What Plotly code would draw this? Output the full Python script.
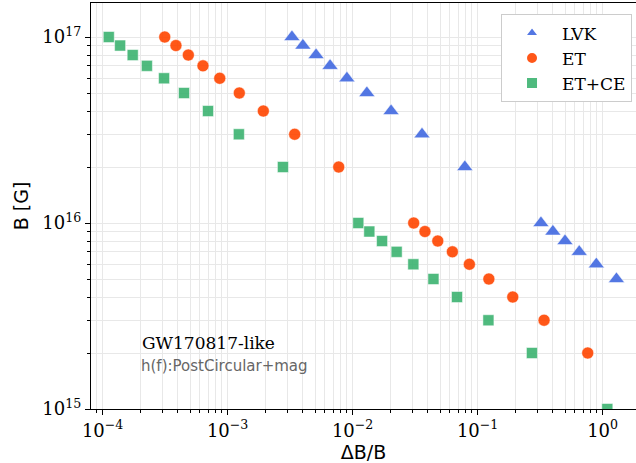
import plotly.graph_objects as go

# LVK
lvk_x = [3.27e-3, 4.0e-3, 5.1e-3, 6.6e-3, 9.0e-3, 1.30e-2, 2.03e-2, 3.59e-2, 7.9e-2,
         0.321, 0.40, 0.50, 0.65, 0.89, 1.29]
lvk_y = [1e17, 9e16, 8e16, 7e16, 6e16, 5e16, 4e16, 3e16, 2e16,
         1e16, 9e15, 8e15, 7e15, 6e15, 5e15]
# ET
et_x = [3.14e-4, 3.86e-4, 4.85e-4, 6.35e-4, 8.65e-4, 1.24e-3, 1.93e-3, 3.44e-3, 7.74e-3,
        3.08e-2, 3.79e-2, 4.80e-2, 6.28e-2, 8.59e-2, 0.123, 0.191, 0.34, 0.76]
et_y = [1e17, 9e16, 8e16, 7e16, 6e16, 5e16, 4e16, 3e16, 2e16,
        1e16, 9e15, 8e15, 7e15, 6e15, 5e15, 4e15, 3e15, 2e15]
# ET+CE
etce_x = [1.12e-4, 1.38e-4, 1.74e-4, 2.26e-4, 3.10e-4, 4.48e-4, 6.97e-4, 1.23e-3, 2.77e-3,
          1.11e-2, 1.36e-2, 1.72e-2, 2.25e-2, 3.06e-2, 4.43e-2, 6.84e-2, 0.122, 0.272, 1.09]
etce_y = [1e17, 9e16, 8e16, 7e16, 6e16, 5e16, 4e16, 3e16, 2e16,
          1e16, 9e15, 8e15, 7e15, 6e15, 5e15, 4e15, 3e15, 2e15, 1e15]

x_tickvals = [1e-4, 1e-3, 1e-2, 1e-1, 1e0]
x_ticktext = ["10<sup>−4</sup>", "10<sup>−3</sup>", "10<sup>−2</sup>", "10<sup>−1</sup>", "10<sup>0</sup>"]
y_tickvals = [1e15, 1e16, 1e17]
y_ticktext = ["10<sup>15</sup>", "10<sup>16</sup>", "10<sup>17</sup>"]

fig = go.Figure()
series = [
    ("LVK", lvk_x, lvk_y, "triangle-up", "#4169E1", 14),
    ("ET", et_x, et_y, "circle", "#FF4500", 12),
    ("ET+CE", etce_x, etce_y, "square", "#3CB371", 11),
]
for name, xs, ys, sym, col, sz in series:
    fig.add_trace(go.Scatter(
        x=xs, y=ys, mode="markers", name=name,
        marker=dict(symbol=sym, color=col, size=sz, opacity=0.9,
                    line=dict(width=0.5, color="white")),
        cliponaxis=True,
    ))

grid = "#e8e8e8"
fig.update_layout(
    width=636, height=463,
    margin=dict(l=91, r=0, t=3, b=54),
    plot_bgcolor="white", paper_bgcolor="white",
    font=dict(family="DejaVu Sans", color="black"),
    legend=dict(
        x=0.9927, y=0.972, xanchor="right", yanchor="top",
        bgcolor="white", bordercolor="#cccccc", borderwidth=1,
        font=dict(family="DejaVu Serif", size=17, color="black"),
        itemsizing="constant", itemwidth=50, tracegroupgap=0,
    ),
    showlegend=True,
)
fig.update_xaxes(
    type="log", range=[-4.093, 0.267],
    tickvals=x_tickvals, ticktext=x_ticktext,
    tickfont=dict(family="DejaVu Serif", size=18),
    ticks="outside", ticklen=5, tickcolor="black",
    showline=True, linecolor="black", linewidth=1.2, mirror=True,
    showgrid=True, gridcolor=grid, gridwidth=1,
    minor=dict(ticks="outside", ticklen=3, tickcolor="black", showgrid=True, gridcolor=grid,
               dtick="D1"),
    title=dict(text="ΔB/B", font=dict(family="DejaVu Sans", size=19), standoff=2),
    zeroline=False,
)
fig.update_yaxes(
    type="log", range=[15, 17.183],
    tickvals=y_tickvals, ticktext=y_ticktext,
    tickfont=dict(family="DejaVu Serif", size=18),
    ticks="outside", ticklen=5, tickcolor="black",
    showline=True, linecolor="black", linewidth=1.2, mirror=False,
    showgrid=True, gridcolor=grid, gridwidth=1,
    minor=dict(ticks="outside", ticklen=3, tickcolor="black", showgrid=True, gridcolor=grid,
               dtick="D1"),
    title=dict(text="B [G]", font=dict(family="DejaVu Sans", size=19), standoff=8),
    zeroline=False,
)
fig.add_annotation(
    xref="paper", yref="paper", x=(140 - 91) / 545, y=(409 - 343) / 406,
    xanchor="left", yanchor="middle", showarrow=False,
    text="GW170817-like", font=dict(family="DejaVu Serif", size=17, color="black"),
)
fig.add_annotation(
    xref="paper", yref="paper", x=(139 - 91) / 545, y=(409 - 366) / 406,
    xanchor="left", yanchor="middle", showarrow=False,
    text="h(f):PostCircular+mag", font=dict(family="DejaVu Sans", size=15, color="#666666"),
)
fig.write_html("out.html", config={"displayModeBar": False},
               post_script="document.body.style.margin='0';document.body.style.overflow='hidden';")
